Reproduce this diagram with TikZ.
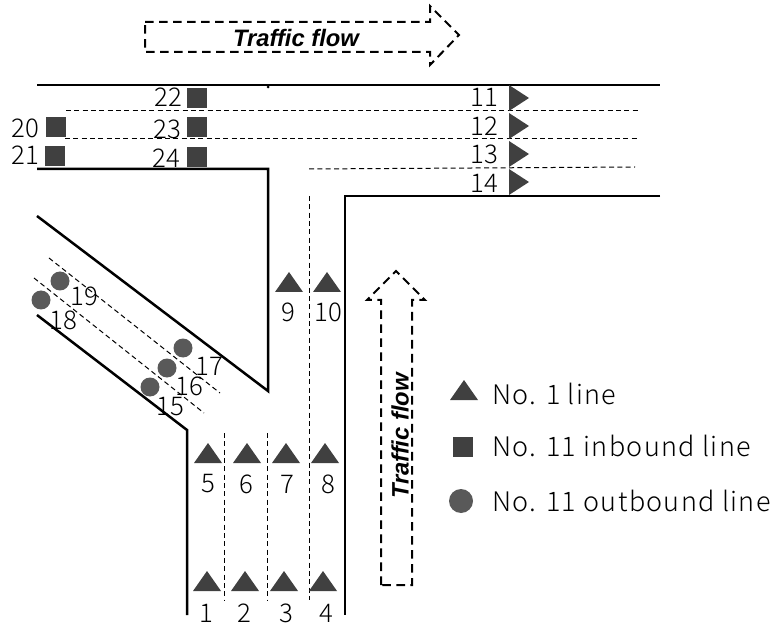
\documentclass[tikz,border=0pt]{standalone}
\usepackage{fontspec}
\setmainfont{Noto Sans CJK JP}[UprightFont=* Light]
\newfontfamily\flowfont{Liberation Sans}
\newfontfamily\legendfont{Noto Sans CJK JP}[UprightFont=* Light, LetterSpace=5]
\definecolor{markgray}{HTML}{404040}
\definecolor{dotgray}{HTML}{595959}
\tikzset{
    road/.style={line width=0.75mm},
    lanemark/.style={densely dashed, line width=0.3mm, dash pattern=on 1.5mm off 1mm},
    flowarrow/.style={line width=0.6mm, dash pattern=on 2.6mm off 1.6mm},
    flowtext/.style={font=\flowfont\fontsize{20.3}{20}\selectfont\bfseries\itshape},
    num/.style={font=\fontsize{22}{22}\selectfont, inner sep=0pt},
    legendtext/.style={font=\legendfont\fontsize{23}{22}\selectfont, anchor=west, inner sep=0pt},
    up/.pic={\fill[markgray] (-14,10) -- (14,10) -- (0,-10) -- cycle;},
    east/.pic={\fill[markgray] (-10,-13) -- (-10,13) -- (10,0) -- cycle;},
    sq/.pic={\fill[markgray] (-10,-10) rectangle (10,10);},
    dot/.pic={\fill[dotgray] (0,0) circle (9.5);}
}
\begin{document}
\begin{tikzpicture}[x=0.03cm, y=-0.03cm]
    \useasboundingbox (0,0) rectangle (780,624);

    % Road edges
    \draw[road] (37,85)--(660,85);
    \draw[road] (37,169)--(268,169)--(268,391)--(37,216);
    \draw[road] (660,196)--(345,196)--(345,615);
    \draw[road] (37,315)--(187,430)--(187,615);
    \fill (268,87) circle (1.5);

    % Lane marks
    \draw[lanemark] (66,111)--(638,111);
    \draw[lanemark] (65,139)--(637,139);
    \draw[lanemark] (309,169)--(635,167);
    \draw[lanemark] (309.5,196)--(309.5,600);
    \draw[lanemark] (224,433)--(224,600);
    \draw[lanemark] (267,433)--(267,600);
    \draw[lanemark] (49,258)--(220,393);
    \draw[lanemark] (34,278)--(204,413);

    % Traffic flow arrows
    \draw[flowarrow] (145,22)--(430,22)--(430,6)--(459,35)--(430,65)--(430,52)--(145,52)--cycle;
    \node[flowtext] (FlowEast) at (296,38) {Traffic flow};
    \draw[flowarrow] (381,585)--(381,300)--(367,300)--(396,271)--(425,300)--(412,300)--(412,585)--cycle;
    \node[flowtext, rotate=90] (FlowNorth) at (400,436) {Traffic flow};

    % No. 1 line, lower row
    \pic at (207,581) {up};
    \pic at (245,581) {up};
    \pic at (284,581) {up};
    \pic at (323,581) {up};
    \node[num] (n1) at (206,613) {1};
    \node[num] (n2) at (244,613) {2};
    \node[num] (n3) at (286,613) {3};
    \node[num] (n4) at (326,613) {4};

    % No. 1 line, upper row
    \pic at (208,453) {up};
    \pic at (247,453) {up};
    \pic at (286,453) {up};
    \pic at (325,453) {up};
    \node[num] (n5) at (208,484) {5};
    \node[num] (n6) at (246,484) {6};
    \node[num] (n7) at (287,484) {7};
    \node[num] (n8) at (328,484) {8};

    % No. 1 line, north arm
    \pic at (289,282) {up};
    \pic at (327,282) {up};
    \node[num] (n9) at (288,312) {9};
    \node[num] (n10) at (328,312) {10};

    % No. 1 line, east arm
    \pic at (519,98) {east};
    \pic at (519,126) {east};
    \pic at (519,154) {east};
    \pic at (519,182) {east};
    \node[num] (n11) at (484,97) {11};
    \node[num] (n12) at (484,126) {12};
    \node[num] (n13) at (484,154) {13};
    \node[num] (n14) at (484,183) {14};

    % No. 11 outbound line
    \pic at (150,387) {dot};
    \pic at (167,368) {dot};
    \pic at (183,348) {dot};
    \pic at (41,300) {dot};
    \pic at (60,281) {dot};
    \node[num] (n15) at (170,407) {15};
    \node[num] (n16) at (189,386) {16};
    \node[num] (n17) at (209,366) {17};
    \node[num] (n18) at (63,320) {18};
    \node[num] (n19) at (84,296) {19};

    % No. 11 inbound line
    \pic at (56,127) {sq};
    \pic at (55,156) {sq};
    \pic at (197,98) {sq};
    \pic at (197,127) {sq};
    \pic at (197,157) {sq};
    \node[num] (n20) at (25,128) {20};
    \node[num] (n21) at (25,155) {21};
    \node[num] (n22) at (168,97) {22};
    \node[num] (n23) at (167,129) {23};
    \node[num] (n24) at (166,158) {24};

    % Legend
    \pic at (464,390) {up};
    \pic at (463,447) {sq};
    \fill[dotgray] (461,501) circle (12);
    \node[legendtext] (LegendA) at (492,394) {No. 1 line};
    \node[legendtext] (LegendB) at (492,446) {No. 11 inbound line};
    \node[legendtext] (LegendC) at (492,501) {No. 11 outbound line};
\end{tikzpicture}
\end{document}
